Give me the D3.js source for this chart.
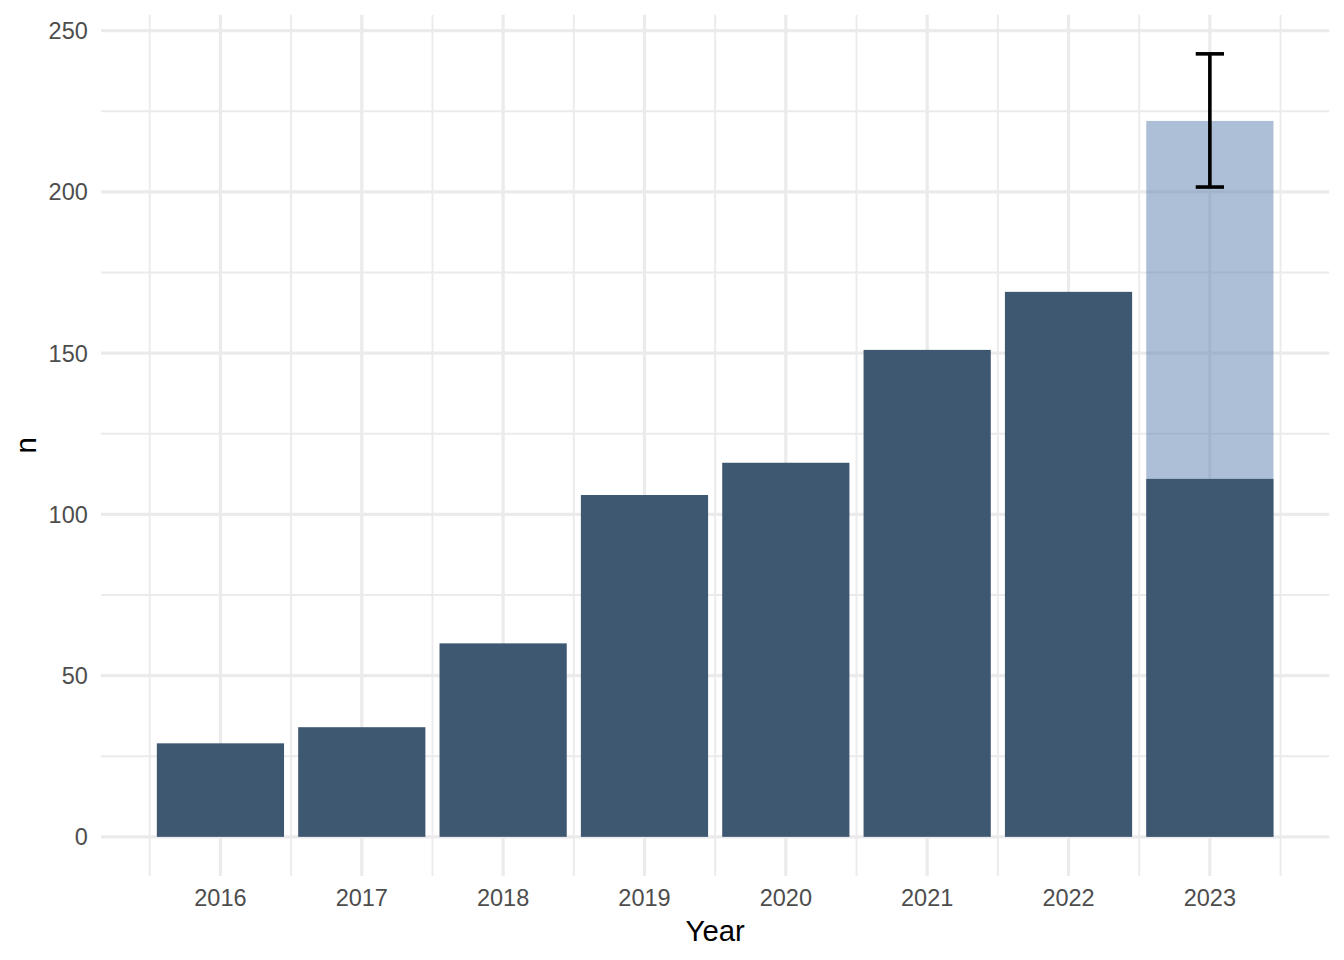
<!DOCTYPE html>
<html>
<head>
<meta charset="utf-8">
<script src="https://cdn.jsdelivr.net/npm/d3@7"></script>
<style>
  html, body { margin: 0; padding: 0; background: #fff; }
  svg { display: block; font-family: "Liberation Sans", Arial, Helvetica, sans-serif; }
</style>
</head>
<body>
<svg id="chart" width="1344" height="960"></svg>
<script>
// ---- data ----
const years = [2016, 2017, 2018, 2019, 2020, 2021, 2022, 2023];
const counts = [29, 34, 60, 106, 116, 151, 169, 111];
const projectedYears = [2023];
const projectedCounts = [222];
const errLow = [201.5];
const errHigh = [242.8];
const yTicks = [0, 50, 100, 150, 200, 250];
const yMinorTicks = [25, 75, 125, 175, 225];
const xMinorTicks = [2015.5, 2016.5, 2017.5, 2018.5, 2019.5, 2020.5, 2021.5, 2022.5, 2023.5];

// ---- layout ----
const W = 1344, H = 960;
const panel = { left: 101, right: 1329.3, top: 14.7, bottom: 876 };
const barWidth = 0.9, errWidth = 0.2;

const svg = d3.select("#chart");

// x continuous, domain with ggplot 5% expansion
const xLo = d3.min(years) - barWidth / 2, xHi = d3.max(years) + barWidth / 2;
const xPad = (xHi - xLo) * 0.05;
const x = d3.scaleLinear().domain([xLo - xPad, xHi + xPad]).range([panel.left, panel.right]);

const yHiData = d3.max(errHigh);
const yPad = yHiData * 0.05;
const y = d3.scaleLinear().domain([0 - yPad, yHiData + yPad]).range([panel.bottom, panel.top]);

const grid = svg.append("g");
// minor grid
grid.selectAll(".hmin").data(yMinorTicks).enter().append("line")
  .attr("x1", panel.left).attr("x2", panel.right)
  .attr("y1", d => y(d)).attr("y2", d => y(d))
  .attr("stroke", "#ebebeb").attr("stroke-width", 1.9);
grid.selectAll(".vmin").data(xMinorTicks).enter().append("line")
  .attr("y1", panel.top).attr("y2", panel.bottom)
  .attr("x1", d => x(d)).attr("x2", d => x(d))
  .attr("stroke", "#ebebeb").attr("stroke-width", 1.9);
// major grid
grid.selectAll(".hmaj").data(yTicks).enter().append("line")
  .attr("x1", panel.left).attr("x2", panel.right)
  .attr("y1", d => y(d)).attr("y2", d => y(d))
  .attr("stroke", "#ebebeb").attr("stroke-width", 3.2);
grid.selectAll(".vmaj").data(years).enter().append("line")
  .attr("y1", panel.top).attr("y2", panel.bottom)
  .attr("x1", d => x(d)).attr("x2", d => x(d))
  .attr("stroke", "#ebebeb").attr("stroke-width", 3.2);

// projected (light) bars
svg.append("g").selectAll("rect").data(projectedYears.map((yr, i) => ({ yr, v: projectedCounts[i] })))
  .enter().append("rect")
  .attr("x", d => x(d.yr - barWidth / 2))
  .attr("width", d => x(d.yr + barWidth / 2) - x(d.yr - barWidth / 2))
  .attr("y", d => y(d.v))
  .attr("height", d => y(0) - y(d.v))
  .attr("fill", "#5a7fad").attr("fill-opacity", 0.5);

// observed bars
svg.append("g").selectAll("rect").data(years.map((yr, i) => ({ yr, v: counts[i] })))
  .enter().append("rect")
  .attr("x", d => x(d.yr - barWidth / 2))
  .attr("width", d => x(d.yr + barWidth / 2) - x(d.yr - barWidth / 2))
  .attr("y", d => y(d.v))
  .attr("height", d => y(0) - y(d.v))
  .attr("fill", "#3e5872");

// error bar
const eb = svg.append("g").attr("stroke", "#000").attr("stroke-width", 3.6).attr("fill", "none");
projectedYears.forEach((yr, i) => {
  eb.append("line").attr("x1", x(yr)).attr("x2", x(yr)).attr("y1", y(errLow[i])).attr("y2", y(errHigh[i]));
  eb.append("line").attr("x1", x(yr - errWidth / 2)).attr("x2", x(yr + errWidth / 2)).attr("y1", y(errLow[i])).attr("y2", y(errLow[i]));
  eb.append("line").attr("x1", x(yr - errWidth / 2)).attr("x2", x(yr + errWidth / 2)).attr("y1", y(errHigh[i])).attr("y2", y(errHigh[i]));
});

// axes text
const fsTick = 23.5, fsTitle = 29.3;
svg.append("g").selectAll("text").data(yTicks).enter().append("text")
  .attr("x", panel.left - 13.2)
  .attr("y", d => y(d) + 0.716 * fsTick / 2)
  .attr("text-anchor", "end")
  .attr("font-size", fsTick).attr("fill", "#4d4d4d")
  .text(d => d);

svg.append("g").selectAll("text").data(years).enter().append("text")
  .attr("x", d => x(d))
  .attr("y", panel.bottom + 13.2 + 0.716 * fsTick)
  .attr("text-anchor", "middle")
  .attr("font-size", fsTick).attr("fill", "#4d4d4d")
  .text(d => d);

svg.append("text")
  .attr("x", (panel.left + panel.right) / 2)
  .attr("y", 941)
  .attr("text-anchor", "middle")
  .attr("font-size", fsTitle).attr("fill", "#000")
  .text("Year");

svg.append("text")
  .attr("transform", `translate(36,${(panel.top + panel.bottom) / 2}) rotate(-90)`)
  .attr("text-anchor", "middle")
  .attr("font-size", fsTitle).attr("fill", "#000")
  .text("n");
</script>
</body>
</html>
